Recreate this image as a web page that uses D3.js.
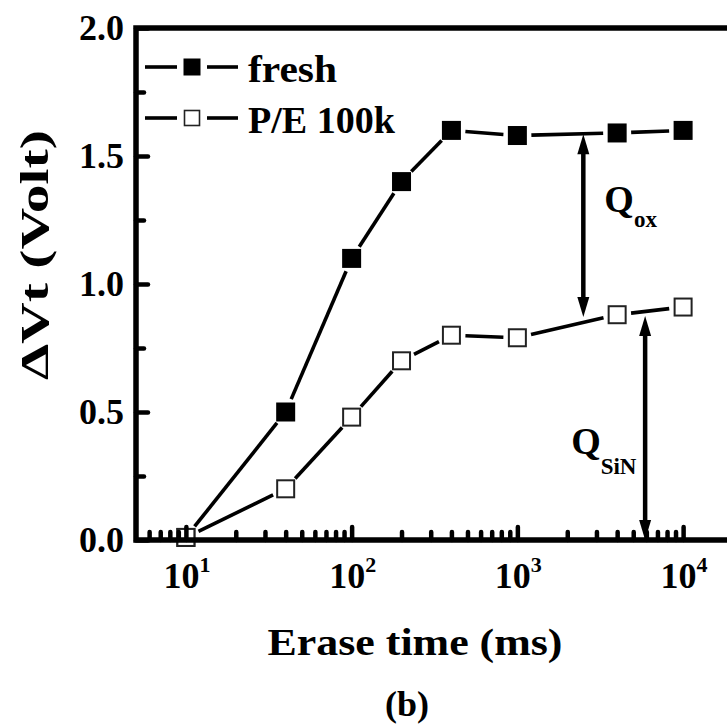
<!DOCTYPE html>
<html>
<head>
<meta charset="utf-8">
<script src="https://cdn.jsdelivr.net/npm/d3@7"></script>
<style>
  html, body { margin: 0; padding: 0; background: #fff; }
  svg { display: block; font-family: "Liberation Serif", "Times New Roman", serif; }
</style>
</head>
<body>
<svg id="chart" width="727" height="727"></svg>
<script>
// Erase time (ms) at which Vt shift was measured
const eraseTime = [10, 40, 100, 200, 400, 1000, 4000, 10000];
// Vt shift (V) for each cell state
const freshVt = [0.01, 0.50, 1.10, 1.40, 1.60, 1.58, 1.59, 1.60];
const cycledVt = [0.01, 0.20, 0.48, 0.70, 0.80, 0.79, 0.88, 0.91];
const seriesNames = ["fresh", "P/E 100k"];
// axis ticks
const yMajorTicks = [0.0, 0.5, 1.0, 1.5, 2.0];
const yMinorTicks = [0.25, 0.75, 1.25, 1.75];
const xDecadeExps = [1, 2, 3, 4];
// charge-component arrows: [time, from Vt, to Vt]
const qoxArrow = [2500, 1.585, 0.871];
const qsinArrow = [5900, 0.875, 0.0];

const svg = d3.select("#chart");
const plotLeft = 136, plotTop = 28, plotBottom = 540;

const x = d3.scaleLog().domain([5, 20000]).range([plotLeft, 733]);
const y = d3.scaleLinear().domain([0, 2]).range([plotBottom, plotTop]);

const ink = "#000";
const font = "'Liberation Serif', 'Times New Roman', serif";

// ---- series ----
const gap = 14;
function drawSeries(vals, filled) {
  const pts = eraseTime.map((t, i) => [x(t), y(vals[i])]);
  const g = svg.append("g");
  for (let i = 0; i < pts.length - 1; i++) {
    const [x0, y0] = pts[i], [x1, y1] = pts[i + 1];
    const dx = x1 - x0, dy = y1 - y0, d = Math.hypot(dx, dy);
    if (d <= 2 * gap) continue;
    const ux = dx / d, uy = dy / d;
    g.append("line")
      .attr("x1", x0 + ux * gap).attr("y1", y0 + uy * gap)
      .attr("x2", x1 - ux * gap).attr("y2", y1 - uy * gap)
      .attr("stroke", ink).attr("stroke-width", 3.6);
  }
  const s = filled ? 19 : 17;
  g.selectAll("rect").data(pts).join("rect")
    .attr("x", d => d[0] - s / 2).attr("y", d => d[1] - s / 2)
    .attr("width", s).attr("height", s)
    .attr("fill", filled ? ink : "#fff")
    .attr("stroke", filled ? "none" : "#222")
    .attr("stroke-width", filled ? 0 : 2);
}
drawSeries(freshVt, true);
drawSeries(cycledVt, false);

// ---- arrows ----
function headPath(px, py, dir) {
  // dir = -1 points up, +1 points down
  const L = 20, W = 6;
  return `M${px},${py} L${px - W},${py - dir * L} L${px + W},${py - dir * L} Z`;
}
function drawArrow(a) {
  const ax = x(a[0]), yA = y(a[1]), yB = y(a[2]);
  const up = Math.min(yA, yB), down = Math.max(yA, yB);
  svg.append("line").attr("x1", ax).attr("x2", ax)
    .attr("y1", up + 14).attr("y2", down - 14)
    .attr("stroke", ink).attr("stroke-width", 4.5);
  svg.append("path").attr("d", headPath(ax, up, -1)).attr("fill", ink);
  svg.append("path").attr("d", headPath(ax, down, 1)).attr("fill", ink);
}
drawArrow(qoxArrow);
drawArrow(qsinArrow);

// annotation labels
function qLabel(px, py, sub, subDy) {
  const t = svg.append("text").attr("x", px).attr("y", py)
    .attr("font-family", font).attr("fill", ink).attr("font-weight", "bold");
  t.append("tspan").attr("font-size", 38).text("Q");
  t.append("tspan").attr("font-size", 23).attr("dy", subDy).text(sub);
}
qLabel(x(qoxArrow[0]) + 21, y(1.28), "ox", 15);
qLabel(x(qsinArrow[0]) - 74, y(0.334), "SiN", 20);

// ---- axes ----
const yAxisMajor = d3.axisLeft(y).tickValues(yMajorTicks)
  .tickSize(-12).tickPadding(12).tickFormat(d3.format(".1f"));
const yAxisMinor = d3.axisLeft(y).tickValues(yMinorTicks)
  .tickSize(-8).tickFormat("");
const xMajorVals = xDecadeExps.map(e => Math.pow(10, e));
const xMinorVals = x.ticks().filter(v => {
  const l = Math.log10(v);
  return Math.abs(l - Math.round(l)) > 1e-9 && v >= 6;
});
const xAxisMajor = d3.axisBottom(x).tickValues(xMajorVals).tickSize(-13).tickFormat("");
const xAxisMinor = d3.axisBottom(x).tickValues(xMinorVals).tickSize(-8).tickFormat("");

function styleAxis(g) {
  g.select(".domain").remove();
  g.selectAll(".tick line").attr("stroke", ink)
    .attr("stroke-width", 4.5).attr("stroke-linecap", "round");
  g.selectAll(".tick text").attr("font-family", font)
    .attr("font-size", 36).attr("font-weight", "bold").attr("fill", ink);
}
svg.append("g").attr("transform", `translate(${plotLeft},0)`).call(yAxisMinor).call(styleAxis);
svg.append("g").attr("transform", `translate(${plotLeft},0)`).call(yAxisMajor).call(styleAxis);
svg.append("g").attr("transform", `translate(0,${plotBottom})`).call(xAxisMinor).call(styleAxis);
svg.append("g").attr("transform", `translate(0,${plotBottom})`).call(xAxisMajor).call(styleAxis);

// frame: left, top and bottom edges
svg.append("path")
  .attr("d", `M727,${plotTop} L${plotLeft},${plotTop} L${plotLeft},${plotBottom} L727,${plotBottom}`)
  .attr("fill", "none").attr("stroke", ink).attr("stroke-width", 5.5)
  .attr("stroke-linejoin", "miter");

// decade labels 10^n
xDecadeExps.forEach(e => {
  const t = svg.append("text")
    .attr("x", x(Math.pow(10, e)) + 1).attr("y", 588)
    .attr("text-anchor", "middle").attr("font-family", font)
    .attr("font-weight", "bold").attr("fill", ink);
  t.append("tspan").attr("font-size", 36).text("10");
  t.append("tspan").attr("font-size", 22).attr("dy", -16).text(String(e));
});

// ---- legend ----
const legendTextWidths = [89, 147];
seriesNames.forEach((name, i) => {
  const ly = 67 + i * 51;
  const g = svg.append("g");
  g.append("line").attr("x1", 145).attr("x2", 177).attr("y1", ly).attr("y2", ly)
    .attr("stroke", ink).attr("stroke-width", 3.6);
  g.append("line").attr("x1", 207).attr("x2", 238).attr("y1", ly).attr("y2", ly)
    .attr("stroke", ink).attr("stroke-width", 3.6);
  const s = i === 0 ? 17 : 15;
  g.append("rect").attr("x", 192 - s / 2).attr("y", ly - s / 2)
    .attr("width", s).attr("height", s)
    .attr("fill", i === 0 ? ink : "#fff")
    .attr("stroke", i === 0 ? "none" : "#222").attr("stroke-width", 1.6);
  g.append("text").attr("x", 248).attr("y", ly + 15)
    .attr("font-family", font).attr("font-size", 38).attr("font-weight", "bold")
    .attr("fill", ink)
    .attr("textLength", legendTextWidths[i]).attr("lengthAdjust", "spacingAndGlyphs")
    .text(name);
});

// ---- axis titles ----
svg.append("text").attr("x", 415).attr("y", 655)
  .attr("text-anchor", "middle").attr("font-family", font)
  .attr("font-size", 38).attr("font-weight", "bold").attr("fill", ink)
  .attr("textLength", 295).attr("lengthAdjust", "spacingAndGlyphs")
  .text("Erase time (ms)");

svg.append("text").attr("transform", "translate(48,255) rotate(-90)")
  .attr("text-anchor", "middle").attr("font-family", font)
  .attr("font-size", 41).attr("font-weight", "bold").attr("fill", ink)
  .attr("textLength", 250).attr("lengthAdjust", "spacingAndGlyphs")
  .text("ΔVt (Volt)");

svg.append("text").attr("x", 407).attr("y", 716)
  .attr("text-anchor", "middle").attr("font-family", font)
  .attr("font-size", 36).attr("font-weight", "bold").attr("fill", ink)
  .text("(b)");
</script>
</body>
</html>
